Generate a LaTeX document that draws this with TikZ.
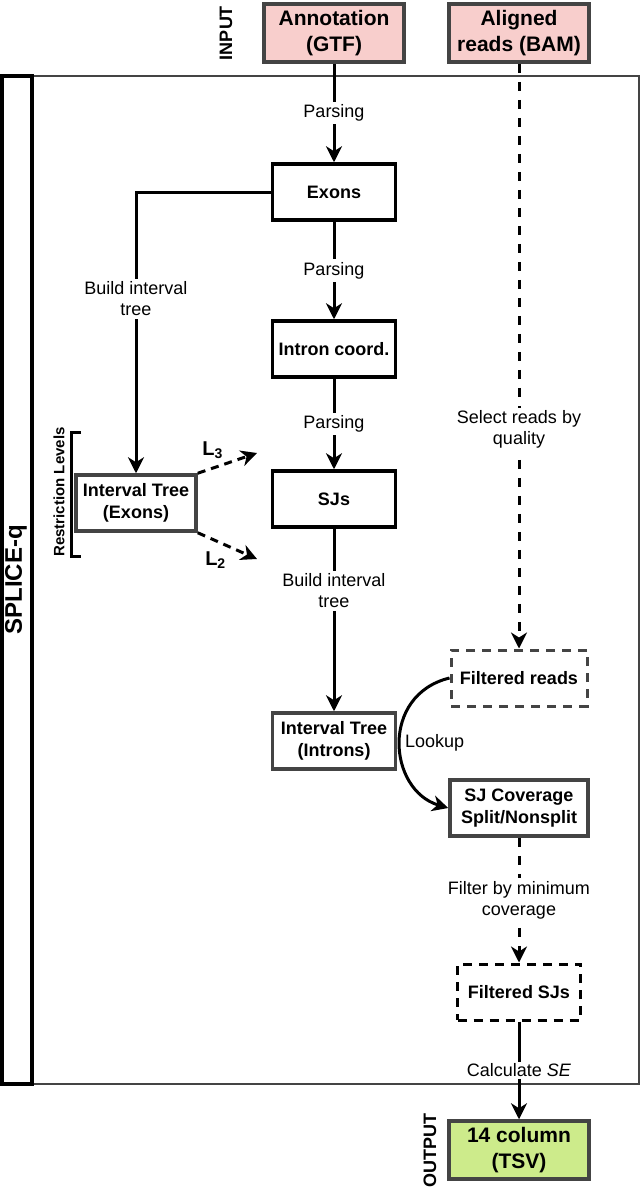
\documentclass[tikz,border=0pt]{standalone}
\usepackage{fontspec}
\setmainfont{Liberation Sans}
\usetikzlibrary{arrows.meta}
\definecolor{inpink}{HTML}{F8CECC}
\definecolor{outgreen}{HTML}{CDEB8B}
\definecolor{boxgray}{HTML}{444444}
\begin{document}
\begin{tikzpicture}[x=1pt, y=1pt, node distance=150pt]
\tikzstyle{block} = [rectangle, minimum width=123pt, minimum height=56pt, inner sep=2pt, text centered, align=center, draw=black, line width=3.5pt, fill=white, font=\fontsize{18}{22}\selectfont\bfseries]
\tikzstyle{greyblock} = [block, draw=boxgray]
\tikzstyle{dashblock} = [block, line width=3pt, dash pattern=on 9pt off 7pt]
\tikzstyle{io} = [block, draw=boxgray, minimum width=140pt, minimum height=58pt, font=\fontsize{21}{26}\selectfont\bfseries]
\tikzstyle{arrow} = [line width=3pt, -{Stealth[length=16pt, width=16pt, inset=5pt]}]
\tikzstyle{dasharrow} = [arrow, dash pattern=on 9pt off 9pt]
\tikzstyle{levelarrow} = [arrow, dash pattern=on 8pt off 6pt]
\tikzstyle{lbl} = [fill=white, inner sep=3pt, align=center, font=\fontsize{18}{21}\selectfont]
\tikzstyle{tag} = [rotate=90, font=\fontsize{18}{21}\selectfont\bfseries]
\useasboundingbox (0,0) rectangle (640,-1187);
%
\draw [draw=boxgray, line width=1.5pt] (32,-76) rectangle (639,-1084);
\draw [line width=3.5pt] (1.75,-76) rectangle (32,-1084);
\node (splice) [rotate=90, font=\fontsize{24}{28}\selectfont\bfseries] at (16,-580) {SPLICE-q};
%
\node (input) [tag] at (226,-33) {INPUT};
\node (annot) [io, fill=inpink] at (334,-33) {Annotation\\(GTF)};
\node (aligned) [io, fill=inpink] at (519,-33) {Aligned\\reads (BAM)};
\node (exons) [block] at (334,-192) {Exons};
\node (intron) [block, node distance=157pt, below of=exons] {Intron coord.};
\node (sjs) [block, below of=intron] {SJs};
\node (itexons) [greyblock, minimum width=120pt] at (136,-503) {Interval Tree\\(Exons)};
\node (itintrons) [greyblock, node distance=242pt, below of=sjs] {Interval Tree\\(Introns)};
\node (freads) [dashblock, draw=boxgray, minimum width=136pt] at (519,-678) {Filtered reads};
\node (sjcov) [greyblock, minimum width=138pt, node distance=130pt, below of=freads] {SJ Coverage\\Split/Nonsplit};
\node (fsjs) [dashblock, node distance=184pt, below of=sjcov] {Filtered SJs};
\node (tsv) [io, fill=outgreen, node distance=158pt, below of=fsjs] {14 column\\(TSV)};
\node (output) [tag] at (430,-1150) {OUTPUT};
%
\node (restr) [rotate=90, font=\fontsize{15}{18}\selectfont\bfseries] at (59,-492) {Restriction Levels};
\draw [line width=3pt] (81,-432) -- (71,-432) -- (71,-556) -- (81,-556);
\coordinate (l3end) at (257,-453);
\coordinate (l2end) at (257,-559);
%
\draw [arrow] (annot) -- node[lbl] {Parsing} (exons);
\draw [arrow] (exons) -- node[lbl] {Parsing} (intron);
\draw [arrow] (intron) -- node[lbl] {Parsing} (sjs);
\draw [arrow] (exons.west) -| node[lbl, pos=0.69] {Build interval\\tree} (itexons.north);
\draw [arrow] (sjs) -- node[lbl, pos=0.34] {Build interval\\tree} (itintrons);
\draw [levelarrow] (itexons.north east) -- (l3end) node[pos=0.25, above=5pt, font=\fontsize{20}{22}\selectfont\bfseries] {L\textsubscript{3}};
\draw [levelarrow] (itexons.south east) -- (l2end) node[pos=0.3, below=6pt, font=\fontsize{20}{22}\selectfont\bfseries] {L\textsubscript{2}};
\draw [dasharrow] (aligned) -- node[lbl, pos=0.626] {Select reads by\\quality} (freads);
\draw [arrow] (freads.west) .. controls (380,-695) and (388,-790) .. (sjcov.west) node[pos=0.5, right, font=\fontsize{18}{21}\selectfont] {Lookup};
\draw [dasharrow] (sjcov) -- node[lbl] {Filter by minimum\\coverage} (fsjs);
\draw [arrow] (fsjs) -- node[lbl, inner sep=2pt] {Calculate \textit{SE}} (tsv);
\end{tikzpicture}
\end{document}
